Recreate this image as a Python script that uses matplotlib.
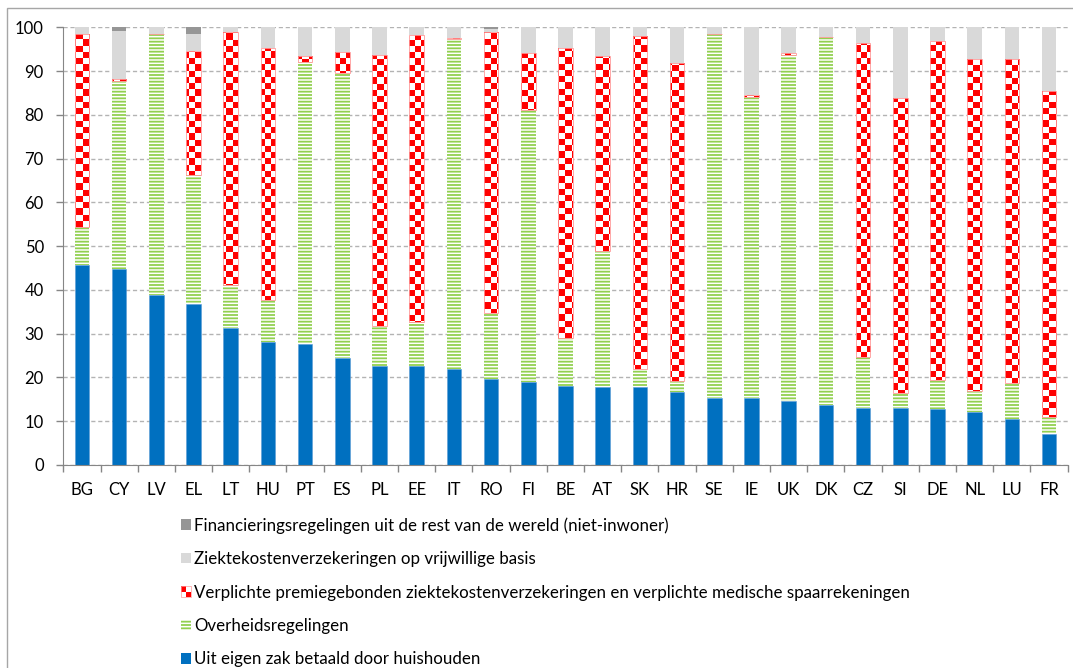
import numpy as np
import matplotlib.pyplot as plt
from matplotlib.colors import ListedColormap
from matplotlib.patches import Patch, Rectangle
from matplotlib.legend_handler import HandlerBase

plt.rcParams['font.family'] = ['Lato', 'DejaVu Sans']
plt.rcParams['hatch.linewidth'] = 1.3

countries = ["BG", "CY", "LV", "EL", "LT", "HU", "PT", "ES", "PL", "EE", "IT", "RO", "FI", "BE",
             "AT", "SK", "HR", "SE", "IE", "UK", "DK", "CZ", "SI", "DE", "NL", "LU", "FR"]

# shares of current health expenditure (%)
oop = [45.7, 44.7, 38.8, 36.7, 31.4, 28.2, 27.6, 24.5, 22.7, 22.5, 22.0, 19.7, 18.9, 18.1,
       17.9, 17.9, 16.6, 15.4, 15.3, 14.5, 13.7, 13.1, 12.9, 12.7, 12.1, 10.5, 7.0]
gov = [8.6, 43.1, 59.8, 29.5, 9.7, 9.5, 64.6, 65.0, 9.1, 10.2, 75.3, 15.0, 62.2, 10.8,
       31.0, 4.0, 2.6, 83.2, 68.8, 79.3, 84.0, 11.5, 3.5, 6.6, 4.8, 8.3, 3.9]
compulsory = [44.3, 0.5, 0.0, 28.5, 57.8, 57.6, 1.3, 4.8, 61.9, 65.5, 0.3, 64.3, 13.1, 66.3,
              44.6, 76.2, 72.6, 0.0, 0.4, 0.3, 0.0, 71.9, 67.5, 77.6, 75.8, 74.0, 74.6]
voluntary = [1.4, 10.9, 1.4, 3.9, 1.1, 4.7, 6.5, 5.7, 6.3, 1.8, 2.4, 0.6, 5.8, 4.8,
             6.5, 1.9, 8.2, 1.4, 15.5, 5.9, 2.3, 3.5, 16.1, 3.1, 7.3, 7.2, 14.5]
rest_of_world = [0.0, 0.8, 0.0, 1.4, 0.0, 0.0, 0.0, 0.0, 0.0, 0.0, 0.0, 0.4, 0.0, 0.0,
                 0.0, 0.0, 0.0, 0.0, 0.0, 0.0, 0.0, 0.0, 0.0, 0.0, 0.0, 0.0, 0.0]

labels = [
    "Uit eigen zak betaald door huishouden",
    "Overheidsregelingen",
    "Verplichte premiegebonden ziektekostenverzekeringen en verplichte medische spaarrekeningen",
    "Ziektekostenverzekeringen op vrijwillige basis",
    "Financieringsregelingen uit de rest van de wereld (niet-inwoner)",
]

BLUE = "#0070c0"
GREEN = "#92d050"
RED = "#ff0000"
LIGHT_GRAY = "#d9d9d9"
DARK_GRAY = "#969696"


class HandlerChecker(HandlerBase):
    def create_artists(self, legend, orig_handle, xdescent, ydescent, width, height, fontsize, trans):
        w, h = width / 2, height / 2
        a = Rectangle((-xdescent, -ydescent + h), w, h, facecolor=RED, lw=0, transform=trans)
        b = Rectangle((-xdescent + w, -ydescent), w, h, facecolor=RED, lw=0, transform=trans)
        c = Rectangle((-xdescent, -ydescent), width, height, facecolor="none",
                      edgecolor="#ff9999", lw=0.5, transform=trans)
        return [a, b, c]


fig = plt.figure(figsize=(10.73, 6.68), dpi=100)
ax = fig.add_axes([0.059, 0.304, 0.936, 0.655])

x = np.arange(len(countries))
w = 0.39
oop_a = np.array(oop)
gov_a = np.array(gov)
comp_a = np.array(compulsory)
vol_a = np.array(voluntary)
row_a = np.array(rest_of_world)

ax.bar(x, oop_a, w, color=BLUE, edgecolor="#5b9bd5", lw=0.4, zorder=2)
ax.bar(x, gov_a, w, bottom=oop_a, facecolor="white", edgecolor=GREEN, hatch="-----", lw=0, zorder=2)
comp_bars = ax.bar(x, comp_a, w, bottom=oop_a + gov_a, facecolor="none",
                   edgecolor="#ff9999", lw=0.6, zorder=3)
ax.bar(x, vol_a, w, bottom=oop_a + gov_a + comp_a, color=LIGHT_GRAY, lw=0, zorder=2)
ax.bar(x, row_a, w, bottom=oop_a + gov_a + comp_a + vol_a, color=DARK_GRAY, lw=0, zorder=2)

# checkerboard texture for the compulsory insurance segments (~6 px cells)
xlim = (-0.5, len(countries) - 0.5)
ylim = (0, 100)
nx, ny = 160, 70
checker = np.indices((ny, nx)).sum(axis=0) % 2
checker_cmap = ListedColormap(["white", RED])
for bar in comp_bars:
    if bar.get_height() <= 0:
        continue
    im = ax.imshow(checker, cmap=checker_cmap, extent=(xlim[0], xlim[1], ylim[0], ylim[1]),
                   interpolation="nearest", aspect="auto", zorder=2.5)
    im.set_clip_path(bar)

ax.set_xlim(*xlim)
ax.set_ylim(*ylim)

ax.set_yticks(np.arange(0, 101, 10))
ax.yaxis.grid(True, color="#b3b3b3", linestyle=(0, (3, 2)), linewidth=1)
ax.set_axisbelow(True)
ax.tick_params(axis="y", length=5, width=1, color="#868686", pad=9, labelsize=12)

ax.set_xticks(x)
ax.set_xticklabels(countries)
ax.set_xticks(np.arange(-0.5, len(countries), 1), minor=True)
ax.tick_params(axis="x", which="major", length=0, pad=12, labelsize=12)
ax.tick_params(axis="x", which="minor", length=5, width=1, color="#868686")

for side in ["top", "right"]:
    ax.spines[side].set_visible(False)
for side in ["left", "bottom"]:
    ax.spines[side].set_color("#868686")

handles = [
    Patch(facecolor=DARK_GRAY, lw=0),
    Patch(facecolor=LIGHT_GRAY, lw=0),
    Patch(facecolor=RED),
    Patch(facecolor="white", edgecolor=GREEN, hatch="-----", lw=0),
    Patch(facecolor=BLUE, lw=0),
]
fig.legend(handles, labels[::-1], loc="upper left", bbox_to_anchor=(0.169, 0.226),
           frameon=False, fontsize=12.2, handlelength=0.55, handleheight=0.55,
           handletextpad=0.2, labelspacing=1.03, borderaxespad=0, borderpad=0,
           handler_map={handles[2]: HandlerChecker()})

# outer chart frame (only left and top visible in the crop)
fig.add_artist(Rectangle((7 / 1073, -0.1), 1.2, 1.1 - 8 / 668, transform=fig.transFigure,
                         fill=False, edgecolor="#a6a6a6", lw=1))

fig.savefig("out.png", dpi=100)
